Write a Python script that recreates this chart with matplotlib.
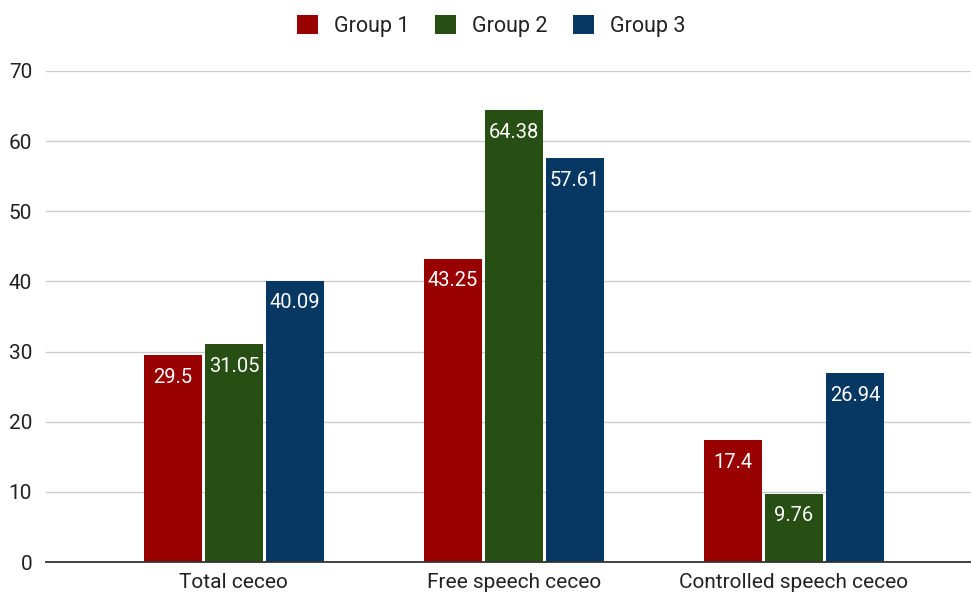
import matplotlib.pyplot as plt
import numpy as np

categories = ['Total ceceo', 'Free speech ceceo', 'Controlled speech ceceo']
groups = ['Group 1', 'Group 2', 'Group 3']
group1 = [29.5, 43.25, 17.4]
group2 = [31.05, 64.38, 9.76]
group3 = [40.09, 57.61, 26.94]
labels1 = ['29.5', '43.25', '17.4']
labels2 = ['31.05', '64.38', '9.76']
labels3 = ['40.09', '57.61', '26.94']
colors = ['#990000', '#274e13', '#073763']

plt.rcParams['font.family'] = ['Roboto', 'DejaVu Sans']

fig = plt.figure(figsize=(9.71, 5.96), dpi=100)
ax = fig.add_axes([0.0474, 0.057, 0.9526, 0.824])

x = np.arange(len(categories))
width = 0.205
offset = 0.218

series = [(group1, labels1), (group2, labels2), (group3, labels3)]
for i, (vals, labs) in enumerate(series):
    bars = ax.bar(x + (i - 1) * offset, vals, width, color=colors[i],
                  label=groups[i], zorder=3)
    for b, lab in zip(bars, labs):
        ax.annotate(lab, (b.get_x() + b.get_width() / 2, b.get_height()),
                    xytext=(0, -16), textcoords='offset points',
                    ha='center', va='center', color='white', fontsize=14.5,
                    zorder=4)

ax.set_xlim(-0.671, 2.632)
ax.set_ylim(0, 70)
ax.set_yticks(range(0, 71, 10))
ax.set_xticks(x)
ax.set_xticklabels(categories)
ax.tick_params(axis='both', length=0, labelsize=15, colors='#222222')
ax.tick_params(axis='y', pad=10)
ax.tick_params(axis='x', pad=8)
ax.grid(axis='y', color='#cccccc', linewidth=1, zorder=0)
for s in ['top', 'right', 'left']:
    ax.spines[s].set_visible(False)
ax.spines['bottom'].set_color('#333333')
ax.spines['bottom'].set_linewidth(1.3)
ax.spines['bottom'].set_zorder(5)

fig.legend(loc='upper center', bbox_to_anchor=(0.506, 1.007), ncol=3,
           frameon=False, fontsize=15.5, handlelength=0.95, handleheight=0.95,
           handletextpad=0.75, columnspacing=1.2, labelcolor='#222222')

fig.savefig('out.png', dpi=100)
